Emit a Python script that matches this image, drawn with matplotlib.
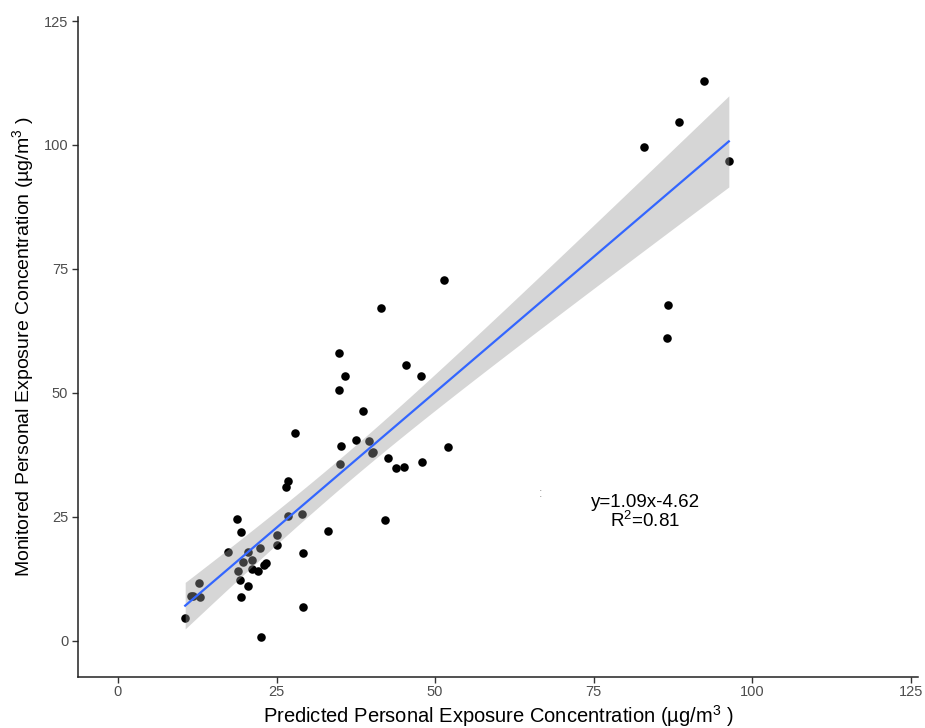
import numpy as np
import matplotlib
matplotlib.use("Agg")
import matplotlib.pyplot as plt

# predicted (x) vs monitored (y) personal exposure
predicted = [10.6, 11.5, 11.8, 12.7, 12.9, 17.4, 18.8, 19.4, 19.7, 20.5,
             21.2, 22.4, 19.0, 19.2, 20.5, 19.4, 21.1, 22.0, 23.0, 23.3,
             22.6, 25.0, 25.1, 26.8, 29.0, 29.2, 29.2, 27.9, 26.8, 26.5,
             33.1, 34.9, 35.8, 34.9, 45.4, 47.7, 38.7, 37.5, 35.2, 39.6,
             40.2, 40.0, 35.0, 42.6, 43.8, 45.1, 47.9, 52.1, 42.1, 51.4,
             41.5, 92.4, 88.4, 82.9, 96.3, 86.7, 86.5]
monitored = [4.7, 9.1, 9.1, 11.6, 8.8, 18.0, 24.5, 22.0, 15.9, 18.0,
             16.4, 18.7, 14.0, 12.3, 11.0, 8.8, 14.5, 14.0, 15.3, 15.7,
             0.7, 21.4, 19.4, 25.1, 25.6, 17.8, 6.9, 42.0, 32.3, 31.0,
             22.2, 58.0, 53.4, 50.6, 55.7, 53.4, 46.3, 40.6, 39.3, 40.3,
             38.0, 37.8, 35.6, 36.8, 34.9, 35.1, 36.0, 39.0, 24.3, 72.8,
             67.1, 112.9, 104.7, 99.5, 96.8, 67.7, 61.0]

x_ticks = [0, 25, 50, 75, 100, 125]
y_ticks = [0, 25, 50, 75, 100, 125]

plt.rcParams['font.family'] = ['Liberation Sans', 'DejaVu Sans']
plt.rcParams['mathtext.fontset'] = 'custom'
plt.rcParams['mathtext.rm'] = 'Liberation Sans'

x = np.array(predicted)
y = np.array(monitored)

# linear fit with 95% confidence band (like geom_smooth(method="lm"))
slope, intercept = np.polyfit(x, y, 1)
n = len(x)
resid = y - (slope * x + intercept)
s = np.sqrt(np.sum(resid ** 2) / (n - 2))
xs = np.linspace(x.min(), x.max(), 100)
ys = slope * xs + intercept
se = s * np.sqrt(1 / n + (xs - x.mean()) ** 2 / np.sum((x - x.mean()) ** 2))
t = 2.004  # t(0.975, df=55)

fig = plt.figure(figsize=(9.25, 7.28), dpi=100)
ax = fig.add_axes([0.0843, 0.070, 0.908, 0.9066])

ax.scatter(x, y, s=38, color='black', zorder=2, linewidths=0)
ax.fill_between(xs, ys - t * se, ys + t * se, color='#999999', alpha=0.4,
                linewidth=0, zorder=3)
ax.plot(xs, ys, color='#3366FF', lw=1.6, zorder=4)

ax.set_xlim(-6.3, 126.1)
ax.set_ylim(-7.3, 125.8)
ax.set_xticks(x_ticks)
ax.set_yticks(y_ticks)
ax.tick_params(colors='#333333', labelcolor='#4D4D4D', labelsize=10.5,
               length=4, width=1, pad=3)
ax.tick_params(axis='x', pad=2)
for side in ['top', 'right']:
    ax.spines[side].set_visible(False)
for side in ['left', 'bottom']:
    ax.spines[side].set_linewidth(1.1)
    ax.spines[side].set_color('#222222')

ax.set_xlabel('Predicted Personal Exposure Concentration (µg/m$^3$ )',
              fontsize=14.5, labelpad=3)
ax.set_ylabel('Monitored Personal Exposure Concentration (µg/m$^3$ )',
              fontsize=14, labelpad=5)

ax.text(83.1, 25.9, 'y=1.09x-4.62\nR$^2$=0.81', ha='center', va='center',
        fontsize=13.5, linespacing=1.0)
ax.text(66.6, 29.6, ':', ha='center', va='center', fontsize=9, color='#999999')

fig.savefig('out.png', dpi=100)
